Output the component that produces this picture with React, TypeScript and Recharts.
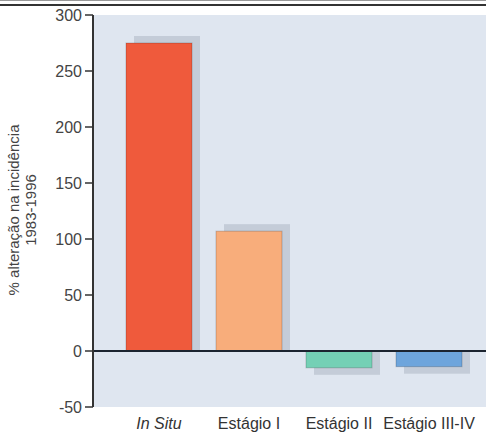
import React from 'react';
import { BarChart, Bar, XAxis, YAxis, CartesianGrid, ReferenceLine, Cell } from 'recharts';

const categories = ['In Situ', 'Estágio I', 'Estágio II', 'Estágio III-IV'];
const changes = [275, 107, -15, -14];
const barColors = ['#ef5a3c', '#f8ad7b', '#74d0b5', '#6ea5dc'];
const yTicks = [-50, 0, 50, 100, 150, 200, 250, 300];

const data = categories.map((name, i) => ({ name, value: changes[i] }));

const FONT = '"Liberation Sans", Arial, sans-serif';

// bar with a flat grey "shadow" slab behind it, offset right and away from zero
const ShadowBar = (props: any) => {
  const { x, y, width, height, fill, value } = props;
  const top = Math.min(y, y + height);
  const h = Math.abs(height);
  const neg = (Array.isArray(value) ? value[1] : value) < 0;
  const sy = neg ? top : top - 7;
  return (
    <g>
      <rect x={x + 8} y={sy} width={width} height={h + 7} fill="#c4ccd8" />
      <rect x={x} y={top} width={width} height={h} fill={fill} stroke="#00000030" strokeWidth={1} />
    </g>
  );
};

const XTick = (props: any) => {
  const { x, y, payload } = props;
  return (
    <text x={x} y={y + 14} textAnchor="middle" fontSize={16} fill="#333" fontFamily={FONT}
      fontStyle={payload.value === 'In Situ' ? 'italic' : 'normal'}>
      {payload.value}
    </text>
  );
};

const YLabel = () => (
  <text transform="translate(19,210) rotate(-90)" textAnchor="middle" fontSize={15} fill="#444" fontFamily={FONT}>
    <tspan x={0} dy={0}>% alteração na incidência</tspan>
    <tspan x={0} dy={17}>1983-1996</tspan>
  </text>
);

export default function App() {
  return (
    <div style={{ position: 'absolute', left: 0, top: 0, width: 486, height: 433, background: '#fff' }}>
      <div style={{ position: 'absolute', left: 0, top: 0, width: 486, height: 1, background: '#999' }} />
      <div style={{ position: 'absolute', left: 0, top: 4, width: 486, height: 2, background: '#333' }} />
      <BarChart width={486} height={433} data={data} margin={{ top: 15, right: 0, bottom: 0, left: 0 }}>
        <CartesianGrid fill="#dfe6f0" stroke="none" horizontal={false} vertical={false} />
        <XAxis dataKey="name" height={26} axisLine={false} tickLine={false} tick={<XTick />}
          padding={{ left: 21, right: 12 }} interval={0} />
        <YAxis width={93} domain={[-50, 300]} ticks={yTicks} interval={0}
          axisLine={{ stroke: '#333', strokeWidth: 2 }} tickLine={{ stroke: '#333', strokeWidth: 1.5 }}
          tickSize={8} tickMargin={3}
          tick={{ fontSize: 16, fill: '#444', fontFamily: FONT }} label={<YLabel />} />
        <Bar dataKey="value" barSize={66} shape={<ShadowBar />} isAnimationActive={false}>
          {data.map((d, i) => <Cell key={d.name} fill={barColors[i]} />)}
        </Bar>
        <ReferenceLine y={0} stroke="#1c2430" strokeWidth={2} />
      </BarChart>
    </div>
  );
}
